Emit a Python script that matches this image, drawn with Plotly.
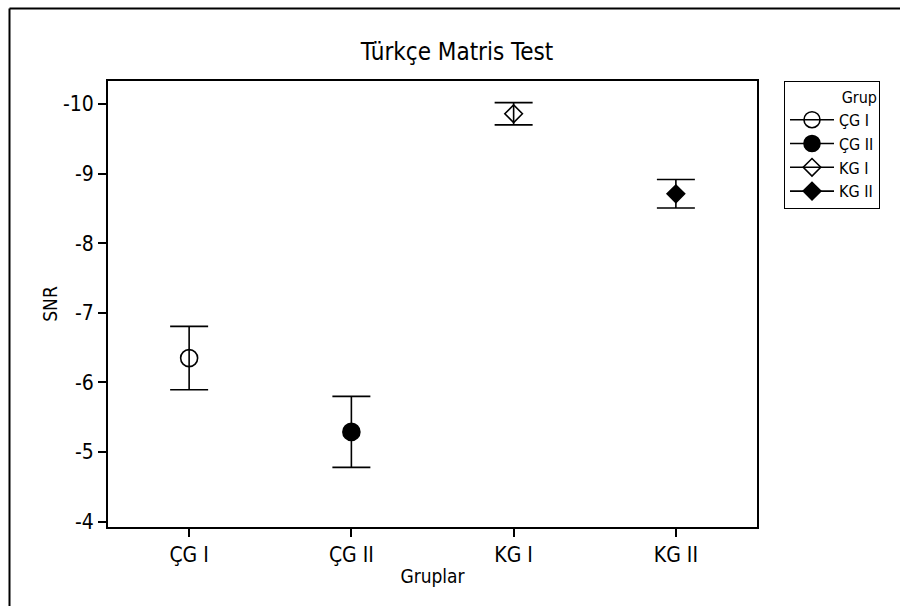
import plotly.graph_objects as go

# Group means of SNR with their confidence half-widths
groups = ["ÇG I", "ÇG II", "KG I", "KG II"]
snr_mean = [-6.35, -5.29, -9.86, -8.71]
snr_err = [0.455, 0.51, 0.16, 0.205]

# Marker style per group
symbols = ["circle-open", "circle", "diamond-open", "diamond"]
sizes = [17, 17, 13.5, 13.5]

y_ticks = [-10, -9, -8, -7, -6, -5, -4]
y_ticktext = ["-10", "-9", "-8", "-7", "-6", "-5", "-4"]

FONT = "DejaVu Sans Condensed, DejaVu Sans, sans-serif"

fig = go.Figure()
for g, m, e, s, sz in zip(groups, snr_mean, snr_err, symbols, sizes):
    fig.add_trace(go.Scatter(
        x=[g], y=[m], name=g, mode="lines+markers",
        marker=dict(symbol=s, size=sz, color="black",
                    line=dict(color="black", width=1.6)),
        line=dict(color="black", width=1.6),
        error_y=dict(type="data", array=[e], symmetric=True,
                     color="black", thickness=1.6, width=19),
    ))

L, R, T, B = 108, 143, 81, 79
W, H = 900, 606
pw, ph = W - L - R, H - T - B

def px_to_paper(xp, yp):
    return (xp - L) / pw, (H - B - yp) / ph

# outer frame: left and top edges only
fx0, fy0 = px_to_paper(9.5, 8.5)
fx1, fy1 = px_to_paper(W, H)
frame = dict(color="black", width=2)

fig.update_layout(
    width=W, height=H,
    margin=dict(l=L, r=R, t=T, b=B),
    paper_bgcolor="white", plot_bgcolor="white",
    font=dict(family=FONT, color="black", size=20),
    title=dict(text="Türkçe Matris Test", x=457 / W, xref="container",
               y=1 - 52 / H, yref="container", xanchor="center",
               yanchor="middle", font=dict(size=24, family=FONT, color="black")),
    xaxis=dict(
        categoryorder="array", categoryarray=groups, range=[-0.5, 3.5],
        showline=True, linecolor="black", linewidth=2, mirror=True,
        ticks="outside", ticklen=8, tickwidth=1.5, tickcolor="black",
        showgrid=False, zeroline=False,
        tickfont=dict(size=21),
        title=dict(text="Gruplar", font=dict(size=19), standoff=3),
    ),
    yaxis=dict(
        range=[-3.924, -10.33], tickvals=y_ticks, ticktext=y_ticktext,
        showline=True, linecolor="black", linewidth=2, mirror=True,
        ticks="outside", ticklen=8, tickwidth=1.5, tickcolor="black",
        showgrid=False, zeroline=False,
        tickfont=dict(size=21),
        title=dict(text="SNR", font=dict(size=19), standoff=0),
    ),
    legend=dict(
        x=(784 - L) / pw, y=1.0, xanchor="left", yanchor="top",
        bordercolor="black", borderwidth=1, bgcolor="white",
        font=dict(size=16, family=FONT, color="black"),
        title=dict(text="Grup", side="top right", font=dict(size=16)),
        itemwidth=44,
    ),
    showlegend=True,
    shapes=[
        dict(type="line", xref="paper", yref="paper",
             x0=fx0, y0=fy1, x1=fx0, y1=fy0, line=frame, layer="below"),
        dict(type="line", xref="paper", yref="paper",
             x0=fx0, y0=fy0, x1=fx1, y1=fy0, line=frame, layer="below"),
    ],
)

fig.write_html(
    "out.html",
    config={"displayModeBar": False},
    post_script="document.body.style.margin='0';document.body.style.overflow='hidden';",
)
